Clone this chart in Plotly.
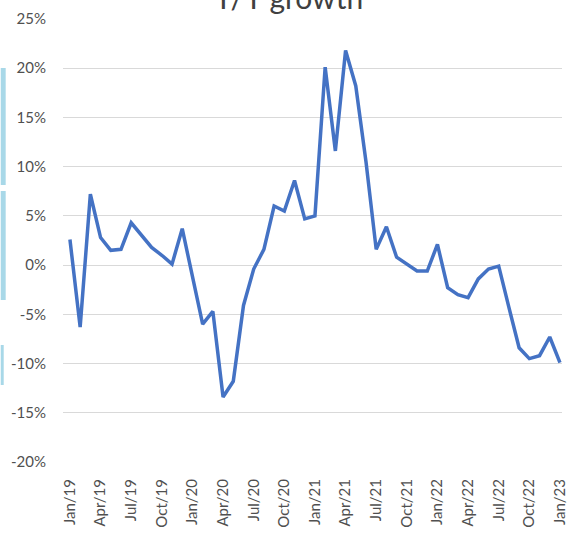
import plotly.graph_objects as go

months = ["Jan", "Feb", "Mar", "Apr", "May", "Jun", "Jul", "Aug", "Sep", "Oct", "Nov", "Dec"]
categories = [f"{m}/{y}" for y in ["19", "20", "21", "22"] for m in months] + ["Jan/23"]

yoy_growth = [
    2.6, -6.3, 7.2, 2.8, 1.5, 1.6, 4.3, 3.0, 1.8, 1.0, 0.1, 3.7,
    -1.2, -6.0, -4.7, -13.4, -11.8, -4.1, -0.4, 1.6, 6.0, 5.5, 8.6, 4.7,
    5.0, 20.1, 11.6, 21.8, 18.2, 10.5, 1.6, 3.9, 0.8, 0.1, -0.6, -0.6,
    2.1, -2.3, -3.0, -3.3, -1.4, -0.4, -0.1, -4.3, -8.4, -9.5, -9.2, -7.3,
    -9.9,
]
yoy_fraction = [v / 100 for v in yoy_growth]

tick_labels = categories[::3]
y_tick_pct = [-20, -15, -10, -5, 0, 5, 10, 15, 20, 25]
y_ticks = [v / 100 for v in y_tick_pct]
y_tick_text = [f"{v}%" for v in y_tick_pct]

fig = go.Figure()
fig.add_trace(go.Scatter(
    x=categories, y=yoy_fraction, mode="lines",
    line=dict(color="#4472C4", width=3.5),
    hoverinfo="skip", showlegend=False,
))

tick_font = dict(family="Lato, Liberation Sans, sans-serif", size=15, color="#505050")

fig.update_layout(
    width=571, height=535,
    margin=dict(l=63, r=3, t=19, b=73),
    paper_bgcolor="white", plot_bgcolor="white",
    xaxis=dict(
        type="category", range=[-0.68, 48.2],
        tickmode="array", tickvals=tick_labels, ticktext=tick_labels,
        tickangle=-90, tickfont=tick_font, showgrid=False, zeroline=False,
        showline=False, ticks="", ticklabelstandoff=13,
    ),
    yaxis=dict(
        range=[-0.20, 0.25], tickmode="array", tickvals=y_ticks, ticktext=y_tick_text,
        tickfont=tick_font, showgrid=True, gridcolor="#D9D9D9", gridwidth=1,
        zeroline=False, showline=False, ticks="", ticklabelstandoff=16,
    ),
    annotations=[dict(
        text="Y/Y growth", xref="paper", yref="paper", x=0.451, y=1.049,
        xanchor="center", yanchor="middle", showarrow=False,
        font=dict(family="Lato, Liberation Sans, sans-serif", size=30, color="#404040"),
    )],
    shapes=[
        dict(type="rect", xref="paper", yref="paper",
             x0=-63/505, x1=-58/505, y0=1-(68-19)/443, y1=1-(185-19)/443,
             fillcolor="#A8D8E8", line=dict(width=0), layer="above"),
        dict(type="rect", xref="paper", yref="paper",
             x0=-63/505, x1=-58/505, y0=1-(191-19)/443, y1=1-(300-19)/443,
             fillcolor="#A8D8E8", line=dict(width=0), layer="above"),
        dict(type="rect", xref="paper", yref="paper",
             x0=-63/505, x1=-60/505, y0=1-(345-19)/443, y1=1-(385-19)/443,
             fillcolor="#A8D8E8", line=dict(width=0), layer="above"),
    ],
)

fig.write_html(
    "out.html",
    config={"displayModeBar": False},
    post_script="document.body.style.margin='0';document.body.style.overflow='hidden';",
)
